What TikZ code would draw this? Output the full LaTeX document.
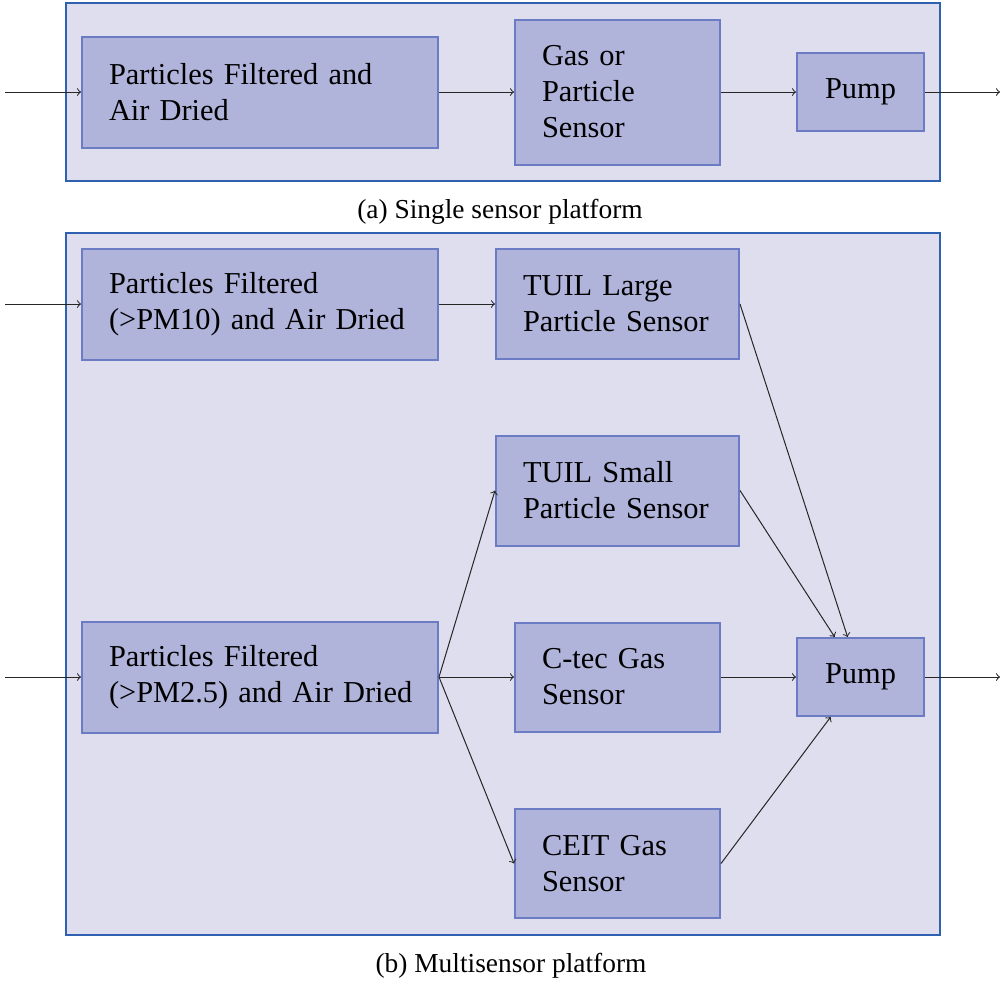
\documentclass[tikz,border=0pt]{standalone}
\usepackage{fontspec}
\setmainfont{Liberation Serif}
\usepackage{tikz}

\definecolor{platfill}{HTML}{DEDEEE}
\definecolor{platline}{HTML}{3060B0}
\definecolor{unitfill}{HTML}{B0B3DA}
\definecolor{unitline}{HTML}{6C7CC4}

% left indent of the box texts
\newcommand{\ind}{\hspace*{6.5pt}}

\begin{document}
\begin{tikzpicture}[x=0.5pt,y=-0.5pt,
	platform/.style={draw=platline,fill=platfill,line width=1pt},
	unit/.style={draw=unitline,fill=unitfill,line width=1pt,inner xsep=7pt,inner ysep=0pt,
		align=left,font=\fontsize{15.2}{18}\selectfont},
	wide/.style={unit,minimum width=178pt,text width=164pt,minimum height=55.5pt},
	mid/.style={unit,minimum width=121.5pt,text width=107.5pt,minimum height=55pt},
	gas/.style={unit,minimum width=102.5pt,text width=88.5pt,minimum height=54.5pt},
	pump/.style={unit,inner xsep=6pt,minimum width=63.5pt,text width=51.5pt,minimum height=39pt,align=center},
	flow/.style={->,black!85,line width=0.5pt},
	subcap/.style={font=\fontsize{13.7}{15}\selectfont}]
	\useasboundingbox (0,0) rectangle (1002,981);
	
	% (a) one sensor
	\draw[platform] (66,3) rectangle (940,181);
	\node[wide] (filtA) at (260,92) {\ind Particles Filtered and\\\ind Air Dried};
	\node[gas,minimum height=72.5pt] (sensA) at (617.5,92) {\ind Gas or\\\ind Particle\\\ind Sensor};
	\node[pump] (pumpA) at (860.5,92) {Pump};
	\coordinate (inA) at (5,92);
	\coordinate (outA) at (1000,92);
	\draw[flow] (inA) -- (filtA);
	\draw[flow] (filtA) -- (sensA);
	\draw[flow] (sensA) -- (pumpA);
	\draw[flow] (pumpA) -- (outA);
	\node[subcap] (capA) at (500,212) {(a) Single sensor platform};
	
	% (b) several sensors
	\draw[platform] (66,233) rectangle (940,935);
	\node[wide] (filtPM10) at (260,304) {\ind Particles Filtered\\\ind (>PM10) and Air Dried};
	\node[wide] (filtPM25) at (260,677) {\ind Particles Filtered\\\ind (>PM2.5) and Air Dried};
	\node[mid] (tuilL) at (617.5,304) {\ind TUIL Large\\\ind Particle Sensor};
	\node[mid] (tuilS) at (617.5,490.5) {\ind TUIL Small\\\ind Particle Sensor};
	\node[gas] (ctec) at (617.5,677) {\ind C-tec Gas\\\ind Sensor};
	\node[gas] (ceit) at (617.5,863.5) {\ind CEIT Gas\\\ind Sensor};
	\node[pump] (pumpB) at (860.5,677) {Pump};
	\coordinate (inPM10) at (5,304);
	\coordinate (inPM25) at (5,677);
	\coordinate (outB) at (1000,677);
	
	\draw[flow] (inPM10) -- (filtPM10);
	\draw[flow] (filtPM10) -- (tuilL);
	\draw[flow] (inPM25) -- (filtPM25);
	\foreach \s in {tuilS,ctec,ceit} {
		\draw[flow] (filtPM25.east) -- (\s.west);
	}
	\foreach \s in {tuilL,tuilS,ctec,ceit} {
		\draw[flow] (\s.east) -- (pumpB);
	}
	\draw[flow] (pumpB) -- (outB);
	\node[subcap] (capB) at (511,966) {(b) Multisensor platform};
\end{tikzpicture}
\end{document}
